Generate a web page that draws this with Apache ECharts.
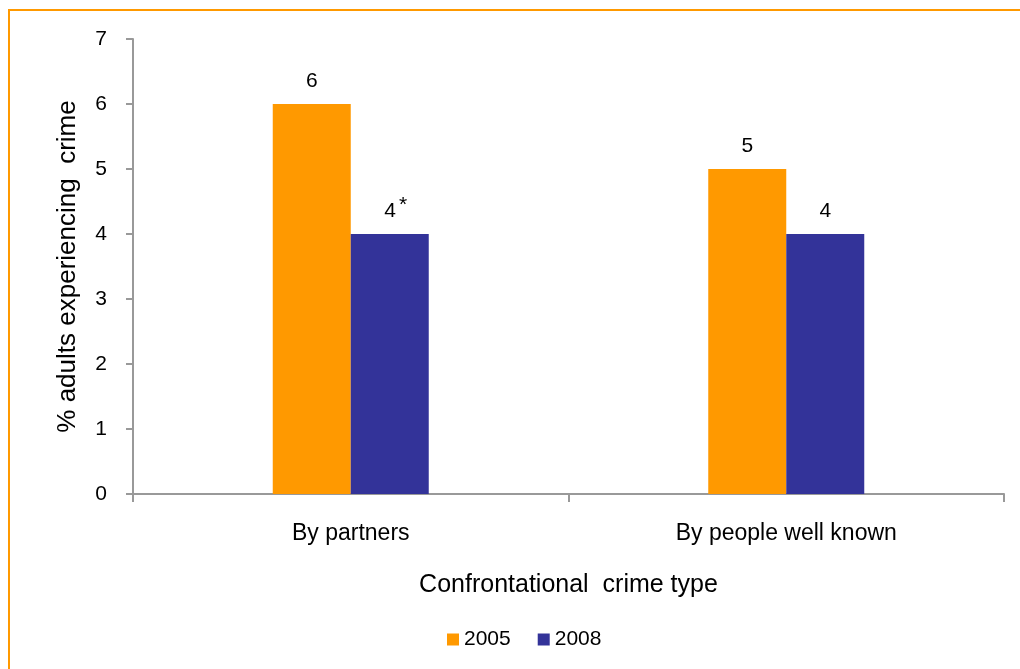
<!DOCTYPE html>
<html>
<head>
<meta charset="utf-8">
<script src="https://cdn.jsdelivr.net/npm/echarts@6/dist/echarts.min.js"></script>
<style>
  html, body { margin: 0; padding: 0; background: #fff; }
  #frame { position: absolute; left: 8px; top: 9px; width: 1100px; height: 700px;
           border-top: 2px solid #FF9900; border-left: 2px solid #FF9900; }
  #chart { position: absolute; left: 0; top: 0; width: 1020px; height: 669px; }
</style>
</head>
<body>
<div id="frame"></div>
<div id="chart"></div>
<script>
// Confrontational crime by offender relationship, 2005 vs 2008
const categories = ['By partners', 'By people well known'];
const seriesNames = ['2005', '2008'];
const values2005 = [6, 5];
const values2008 = [4, 4];
// statistically significant change marker per category (2008 only)
const significant2008 = [true, false];
const yTicks = [0, 1, 2, 3, 4, 5, 6, 7];

const FONT = 'Liberation Sans, Arial, sans-serif';
const chart = echarts.init(document.getElementById('chart'), null, { renderer: 'canvas' });

// 2008 values; a significant change gets a raised asterisk after the number,
// offset so the number itself stays centred over its bar
const data2008 = values2008.map((v, i) => significant2008[i]
  ? { value: v, label: { formatter: '{v|' + v + '}{s|*}', offset: [6, 6] } }
  : v);

chart.setOption({
  animation: false,
  textStyle: { fontFamily: FONT, color: '#000' },
  grid: { left: 133, right: 16, top: 39, bottom: 175, containLabel: false },
  legend: {
    data: seriesNames,
    bottom: 14,
    left: 442,
    itemWidth: 12,
    itemHeight: 12,
    itemGap: 27,
    icon: 'rect',
    textStyle: { fontFamily: FONT, fontSize: 21, color: '#000' }
  },
  xAxis: {
    type: 'category',
    data: categories,
    name: 'Confrontational  crime type',
    nameLocation: 'middle',
    nameGap: 79,
    nameTextStyle: { fontFamily: FONT, fontSize: 25, color: '#000' },
    axisLine: { lineStyle: { color: '#999', width: 2 } },
    axisTick: { show: true, length: 8, lineStyle: { color: '#999', width: 2 } },
    axisLabel: { fontFamily: FONT, fontSize: 23, color: '#000', margin: 28 }
  },
  yAxis: {
    type: 'value',
    min: yTicks[0],
    max: yTicks[yTicks.length - 1],
    interval: 1,
    name: '% adults experiencing  crime',
    nameLocation: 'middle',
    nameGap: 52,
    nameTextStyle: { fontFamily: FONT, fontSize: 26, color: '#000' },
    splitLine: { show: false },
    axisLine: { show: true, lineStyle: { color: '#999', width: 2 } },
    axisTick: { show: true, length: 7, lineStyle: { color: '#999', width: 2 } },
    axisLabel: { fontFamily: FONT, fontSize: 21, color: '#000', margin: 26 }
  },
  series: [
    {
      name: seriesNames[0],
      type: 'bar',
      data: values2005,
      barWidth: 78,
      barGap: '0%',
      itemStyle: { color: '#FF9900' },
      label: { show: true, position: 'top', distance: 12, fontFamily: FONT, fontSize: 21, color: '#000' }
    },
    {
      name: seriesNames[1],
      type: 'bar',
      data: data2008,
      barWidth: 78,
      barGap: '0%',
      itemStyle: { color: '#333399' },
      label: {
        show: true, position: 'top', distance: 12,
        fontFamily: FONT, fontSize: 21, color: '#000',
        rich: {
          v: { fontFamily: FONT, fontSize: 21, color: '#000' },
          s: { fontFamily: FONT, fontSize: 21, color: '#000', verticalAlign: 'top', padding: [0, 0, 12, 3] }
        }
      }
    }
  ]
});
</script>
</body>
</html>
